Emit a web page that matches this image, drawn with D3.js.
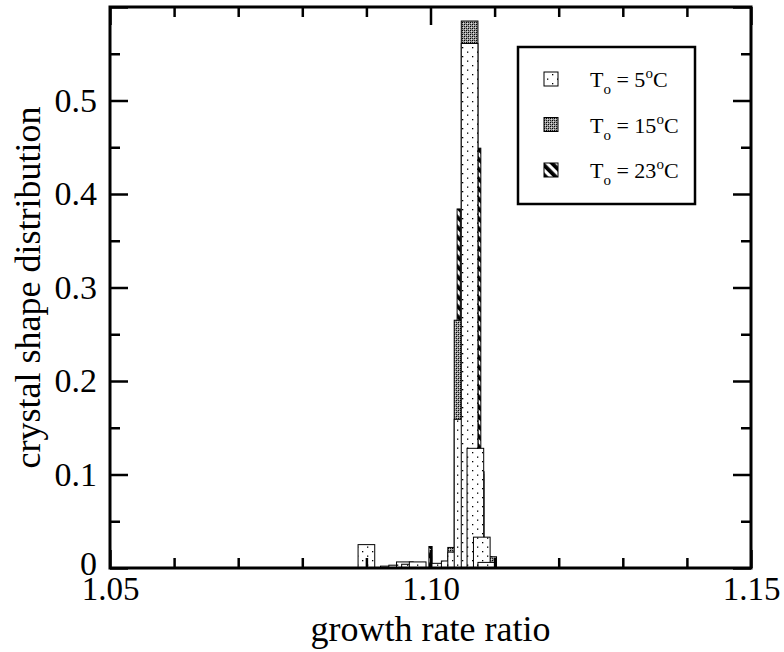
<!DOCTYPE html>
<html><head><meta charset="utf-8">
<script src="https://cdn.jsdelivr.net/npm/d3@7"></script>
<style>body{margin:0;background:#fff}</style>
</head><body>
<script>
// ---- data ----
const seriesNames = ["5", "15", "23"];
// T_o = 5 C  (x center, value)
const x5 = [1.0900, 1.0935, 1.0948, 1.0960, 1.0968, 1.0980, 1.1015, 1.1030, 1.1040, 1.1050, 1.1061, 1.1070, 1.1080, 1.1087];
const y5 = [0.025, 0.002, 0.003, 0.0065, 0.004, 0.0065, 0.005, 0.0075, 0.017, 0.159, 0.561, 0.128, 0.033, 0.006];
// T_o = 15 C
const x15 = [1.1040, 1.1050, 1.1061, 1.1070, 1.1090];
const y15 = [0.022, 0.265, 0.585, 0.100, 0.012];
// T_o = 23 C
const x23 = [1.0900, 1.1000, 1.1044, 1.1076, 1.1081, 1.1086, 1.1093, 1.1097];
const y23 = [0.011, 0.023, 0.384, 0.449, 0.103, 0.023, 0.012, 0.008];
const xMajor = [1.05, 1.10, 1.15];
const yMajor = [0, 0.1, 0.2, 0.3, 0.4, 0.5];

const W = 784, H = 652;
const L = 110, R = 751, T = 7, B = 568;
const x = d3.scaleLinear().domain([1.05, 1.15]).range([L, R]);
const y = d3.scaleLinear().domain([0, 0.6]).range([B, T]);

const svg = d3.select("body").append("svg").attr("width", W).attr("height", H)
  .style("font-family", "'Liberation Serif','Times New Roman',serif");

const defs = svg.append("defs");
// dotted pattern
const p1 = defs.append("pattern").attr("id","pDots").attr("patternUnits","userSpaceOnUse")
  .attr("width",10).attr("height",9);
p1.append("rect").attr("width",10).attr("height",9).attr("fill","#fff");
p1.append("rect").attr("x",2).attr("y",2).attr("width",1.3).attr("height",1.3).attr("fill","#000");
p1.append("rect").attr("x",7).attr("y",6.5).attr("width",1.3).attr("height",1.3).attr("fill","#000");
// crosshatch (dense grey)
const p2 = defs.append("pattern").attr("id","pGrey").attr("patternUnits","userSpaceOnUse")
  .attr("width",4).attr("height",4);
p2.append("rect").attr("width",4).attr("height",4).attr("fill","#9a9a9a");
p2.append("rect").attr("x",0).attr("y",0).attr("width",1).attr("height",1).attr("fill","#000");
p2.append("rect").attr("x",2).attr("y",2).attr("width",1).attr("height",1).attr("fill","#000");
p2.append("rect").attr("x",2).attr("y",0).attr("width",1).attr("height",1).attr("fill","#222");
p2.append("rect").attr("x",0).attr("y",2).attr("width",1).attr("height",1).attr("fill","#222");
p2.append("rect").attr("x",1).attr("y",1).attr("width",1).attr("height",1).attr("fill","#ddd");
p2.append("rect").attr("x",3).attr("y",3).attr("width",1).attr("height",1).attr("fill","#ddd");
// diagonal stripes "\"
const p3 = defs.append("pattern").attr("id","pStripe").attr("patternUnits","userSpaceOnUse")
  .attr("width",7).attr("height",7).attr("patternTransform","rotate(-45)");
p3.append("rect").attr("width",7).attr("height",7).attr("fill","#fff");
p3.append("rect").attr("x",0).attr("width",3.8).attr("height",7).attr("fill","#000");

const w1 = 0.0026, w3 = 0.0005;
function bars(xs, ys, w, fill, stroke) {
  const g = svg.append("g");
  g.selectAll("rect").data(xs.map((d,i)=>({x:d,v:ys[i]}))).join("rect")
    .attr("x", d => x(d.x - w/2))
    .attr("width", d => x(d.x + w/2) - x(d.x - w/2))
    .attr("y", d => y(d.v))
    .attr("height", d => y(0) - y(d.v))
    .attr("fill", fill)
    .attr("stroke", stroke).attr("stroke-width", 1);
}
bars(x23, y23, w3, "url(#pStripe)", "#000");
bars(x15, y15, w1, "url(#pGrey)", "#000");
bars(x5, y5, w1, "url(#pDots)", "#000");

// axes
const majLen = 18, minLen = 10;
const xMinor = d3.range(1.05, 1.1501, 0.01).filter(v => !xMajor.some(m => Math.abs(m-v) < 1e-6));
const yMinor = d3.range(0.05, 0.6, 0.1);
const yMajorAll = [0, 0.1, 0.2, 0.3, 0.4, 0.5, 0.6];

function axisGroup(axis, tr) {
  const g = svg.append("g").attr("transform", tr).call(axis);
  g.select(".domain").remove();
  g.selectAll(".tick line").attr("stroke", "#000").attr("stroke-width", 2.5);
  return g;
}
// bottom
const gb = axisGroup(d3.axisBottom(x).tickValues(xMajor).tickSize(-majLen).tickPadding(9)
  .tickFormat(d3.format(".2f")), `translate(0,${B})`);
gb.selectAll("text").attr("font-size", 33).attr("fill","#000").attr("font-family","'Liberation Serif',serif");
axisGroup(d3.axisBottom(x).tickValues(xMinor).tickSize(-minLen).tickFormat(""), `translate(0,${B})`);
// top
axisGroup(d3.axisTop(x).tickValues(xMajor).tickSize(-majLen).tickFormat(""), `translate(0,${T})`);
axisGroup(d3.axisTop(x).tickValues(xMinor).tickSize(-minLen).tickFormat(""), `translate(0,${T})`);
// left
const gl = axisGroup(d3.axisLeft(y).tickValues(yMajorAll).tickSize(-majLen).tickPadding(13)
  .tickFormat(d => yMajor.includes(d) ? (d === 0 ? "0" : d3.format(".1f")(d)) : ""), `translate(${L},0)`);
gl.selectAll("text").attr("font-size", 34).attr("fill","#000").attr("font-family","'Liberation Serif',serif");
gl.selectAll(".tick").filter(d => d === 0).select("text").attr("dy", "0.2em");
axisGroup(d3.axisLeft(y).tickValues(yMinor).tickSize(-minLen).tickFormat(""), `translate(${L},0)`);
// right
axisGroup(d3.axisRight(y).tickValues(yMajorAll).tickSize(-majLen).tickFormat(""), `translate(${R},0)`);
axisGroup(d3.axisRight(y).tickValues(yMinor).tickSize(-minLen).tickFormat(""), `translate(${R},0)`);

// frame
svg.append("rect").attr("x", L).attr("y", T).attr("width", R-L).attr("height", B-T)
  .attr("fill","none").attr("stroke","#000").attr("stroke-width",3);

// titles
svg.append("text").attr("x", (L+R)/2).attr("y", 641).attr("text-anchor","middle")
  .attr("font-size", 36).text("growth rate ratio");
svg.append("text").attr("transform", `translate(40,${(T+B)/2}) rotate(-90)`).attr("text-anchor","middle")
  .attr("font-size", 36).text("crystal shape distribution");

// legend
const lg = svg.append("g");
lg.append("rect").attr("x",518).attr("y",47).attr("width",177).attr("height",157)
  .attr("fill","#fff").attr("stroke","#000").attr("stroke-width",2.5);
const fills = ["url(#pDots)","url(#pGrey)","url(#pStripe)"];
seriesNames.forEach((s, i) => {
  const cy = 79 + i*45.5;
  lg.append("rect").attr("x",544).attr("y",cy-7).attr("width",14).attr("height",14)
    .attr("fill",fills[i]).attr("stroke","#000").attr("stroke-width",1);
  const t = lg.append("text").attr("x",590).attr("y",cy+8).attr("font-size",22);
  t.append("tspan").text("T");
  t.append("tspan").attr("font-size",15).attr("dy",7).text("o");
  t.append("tspan").attr("dy",-7).text(" = " + s);
  t.append("tspan").attr("font-size",15).attr("dy",-9).text("o");
  t.append("tspan").attr("dy",9).text("C");
});
</script>
</body></html>
